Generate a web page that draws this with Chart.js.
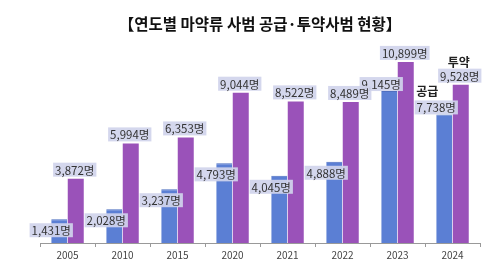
<!DOCTYPE html>
<html>
<head>
<meta charset="utf-8">
<script src="https://cdn.jsdelivr.net/npm/chart.js@4/dist/chart.umd.min.js"></script>
<style>
  html, body { margin: 0; padding: 0; background: #fff; }
  #wrap { width: 500px; height: 267px; }
</style>
</head>
<body>
<div id="wrap"><canvas id="chart"></canvas></div>
<script>
const years = ['2005', '2010', '2015', '2020', '2021', '2022', '2023', '2024'];
const supply = [1431, 2028, 3237, 4793, 4045, 4888, 9145, 7738];
const dosing = [3872, 5994, 6353, 9044, 8522, 8489, 10899, 9528];

// 공급 label sits over the bar top, except the last two which sit above it
const supplyAbove = [false, false, false, false, false, false, true, true];

const FONT = '"Noto Sans CJK KR", "Noto Sans", sans-serif';

const labelPlugin = {
    id: 'valueLabels',
    afterDatasetsDraw(chart) {
        const ctx = chart.ctx;
        ctx.save();
        ctx.font = '11.5px ' + FONT;
        ctx.textAlign = 'center';
        ctx.textBaseline = 'middle';
        const box = (text, cx, cy) => {
            const w = ctx.measureText(text).width + 4;
            ctx.fillStyle = 'rgba(208, 212, 236, 0.92)';
            ctx.fillRect(cx - w / 2, cy - 7, w, 14);
            ctx.fillStyle = '#333';
            ctx.fillText(text, cx, cy + 0.5);
        };
        const fmt = v => v.toLocaleString('en-US') + '명';
        chart.getDatasetMeta(0).data.forEach((bar, i) => {
            const cy = supplyAbove[i] ? bar.y - 7 : bar.y + 11;
            box(fmt(supply[i]), bar.x - 8, cy);
        });
        chart.getDatasetMeta(1).data.forEach((bar, i) => {
            box(fmt(dosing[i]), bar.x - 1, bar.y - 9);
        });
        // series names next to the last pair
        const last = years.length - 1;
        const b0 = chart.getDatasetMeta(0).data[last];
        const b1 = chart.getDatasetMeta(1).data[last];
        ctx.font = 'bold 12px ' + FONT;
        ctx.fillStyle = '#222';
        ctx.fillText('공급', b0.x - 17, b0.y - 23);
        ctx.fillText('투약', b1.x - 2, b1.y - 22);
        ctx.restore();
    }
};

new Chart(document.getElementById('chart'), {
    type: 'bar',
    data: {
        labels: years,
        datasets: [
            { label: '공급', data: supply, backgroundColor: '#5b7fd4', borderColor: '#4a6cc0', borderWidth: { top: 1 } },
            { label: '투약', data: dosing, backgroundColor: '#9a52b9', borderWidth: 0 }
        ]
    },
    options: {
        responsive: true,
        maintainAspectRatio: false,
        animation: false,
        categoryPercentage: 0.6,
        barPercentage: 0.97,
        layout: { padding: { left: 40, right: 20, bottom: 4 } },
        plugins: {
            legend: { display: false },
            tooltip: { enabled: false },
            title: {
                display: true,
                text: '【연도별 마약류 사범 공급·투약사범 현황】',
                color: '#111',
                font: { family: FONT, size: 15.5, weight: 'bold' },
                padding: { top: 15, bottom: 10 }
            }
        },
        scales: {
            x: {
                grid: { offset: true, drawOnChartArea: false, drawTicks: true, tickLength: 4, color: '#999' },
                border: { display: true, color: '#999' },
                ticks: { color: '#444', font: { family: FONT, size: 10 }, padding: 2 }
            },
            y: {
                display: false,
                min: 0,
                max: 12000
            }
        }
    },
    plugins: [labelPlugin]
});
</script>
</body>
</html>
